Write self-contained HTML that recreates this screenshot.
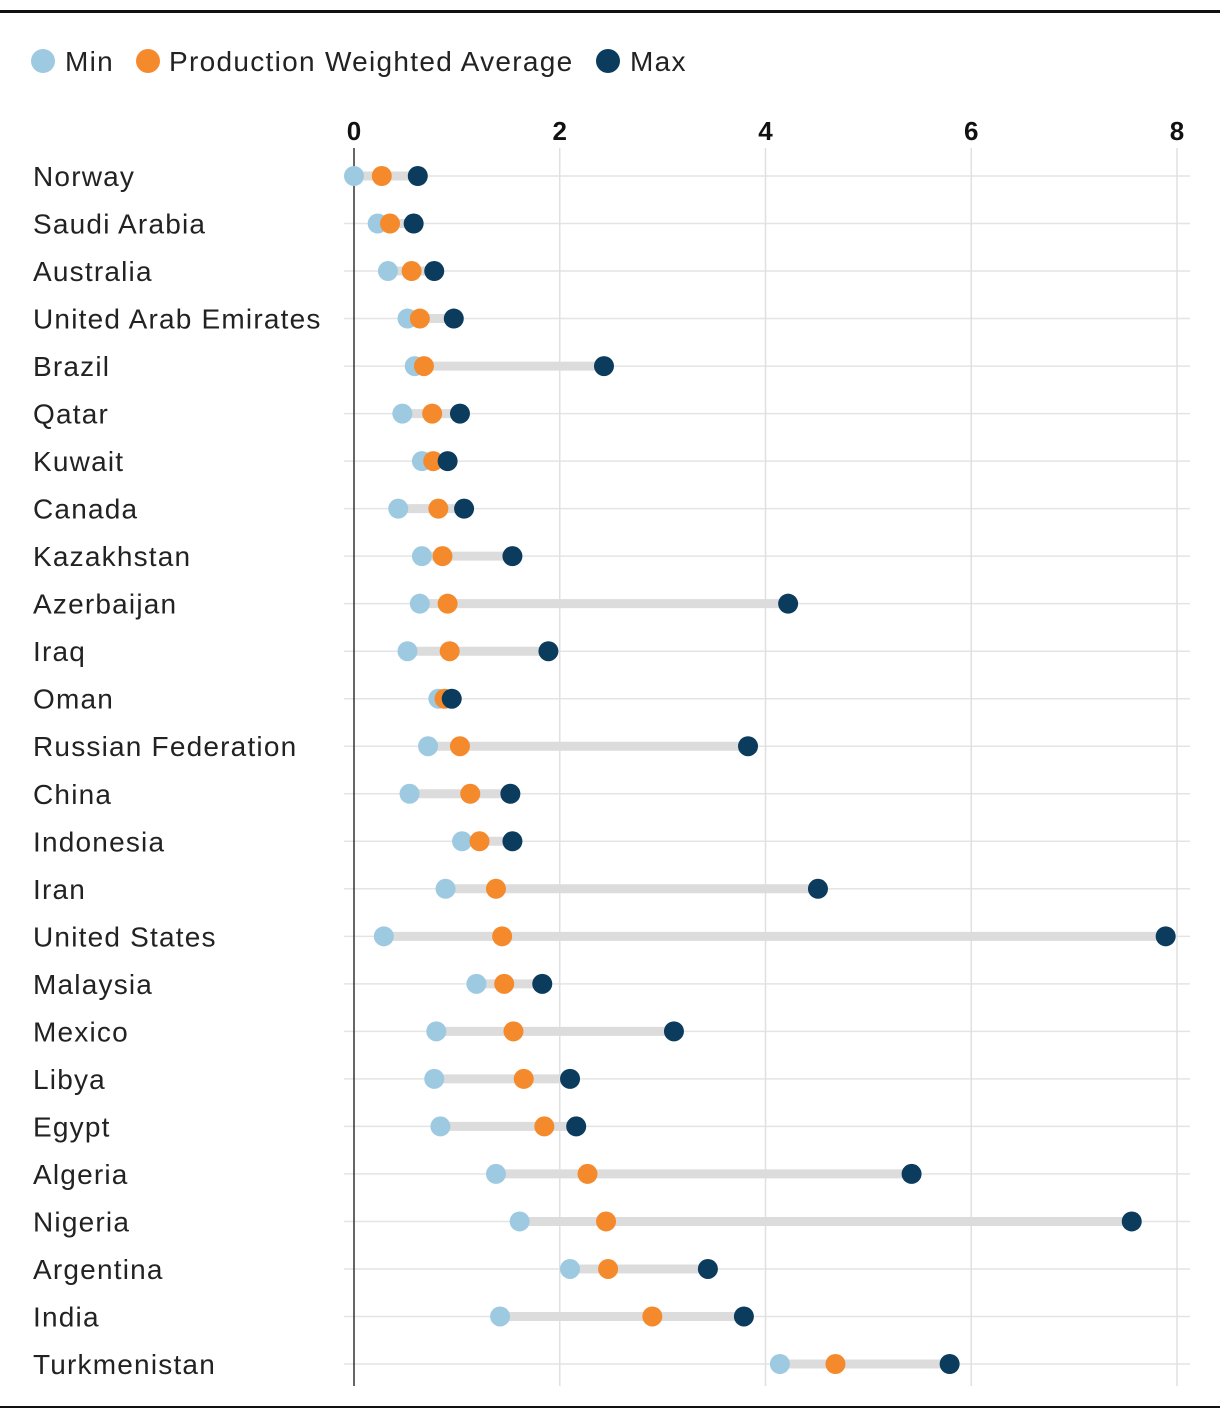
<!DOCTYPE html>
<html><head><meta charset="utf-8">
<style>
html,body{margin:0;padding:0;background:#fff;}
body{width:1220px;height:1420px;overflow:hidden;font-family:"Liberation Sans",sans-serif;}
</style></head>
<body>
<svg id="chart" width="1220" height="1420" xmlns="http://www.w3.org/2000/svg" font-family="Liberation Sans, sans-serif"></svg>
<script>
const countries=["Norway","Saudi Arabia","Australia","United Arab Emirates","Brazil","Qatar","Kuwait","Canada","Kazakhstan","Azerbaijan","Iraq","Oman","Russian Federation","China","Indonesia","Iran","United States","Malaysia","Mexico","Libya","Egypt","Algeria","Nigeria","Argentina","India","Turkmenistan"];
const minVals=[0,0.23,0.33,0.52,0.59,0.47,0.66,0.43,0.66,0.64,0.52,0.82,0.72,0.54,1.05,0.89,0.29,1.19,0.80,0.78,0.84,1.38,1.61,2.10,1.42,4.14];
const avgVals=[0.27,0.35,0.56,0.64,0.68,0.76,0.77,0.82,0.86,0.91,0.93,0.88,1.03,1.13,1.22,1.38,1.44,1.46,1.55,1.65,1.85,2.27,2.45,2.47,2.90,4.68];
const maxVals=[0.62,0.58,0.78,0.97,2.43,1.03,0.91,1.07,1.54,4.22,1.89,0.95,3.83,1.52,1.54,4.51,7.89,1.83,3.11,2.10,2.16,5.42,7.56,3.44,3.79,5.79];
const xTicks=[0,2,4,6,8];
const C={min:"#9ecae1",avg:"#f58a2c",max:"#0b3c5d"};
const svg=document.getElementById('chart');
const NS="http://www.w3.org/2000/svg";
const x=v=>354+v*(1177-354)/8;
const y=i=>176+i*(1364-176)/25;
function mk(tag,attrs,parent){const e=document.createElementNS(NS,tag);for(const k in attrs)e.setAttribute(k,attrs[k]);(parent||svg).appendChild(e);return e;}
let e;
e=mk('rect',{x:0,y:10,width:1220,height:3,fill:'#111'});


e=mk('rect',{x:0,y:1406,width:1220,height:2,fill:'#111'});


const leg=[["Min",C.min,43,65],["Production Weighted Average",C.avg,148,169],["Max",C.max,608,630]];
leg.forEach(l=>{
  const g=mk('g',{});
  
  
  mk('circle',{cx:l[2],cy:61,r:12,fill:l[1]},g);
  const t=mk('text',{x:l[3],y:71,'font-size':28,fill:'#222','letter-spacing':1.3},g);t.textContent=l[0];
});
countries.forEach((c,i)=>{
  e=mk('line',{x1:344,x2:1190,y1:y(i),y2:y(i),stroke:'#e4e4e4','stroke-width':1.5});
  
  
});
xTicks.forEach(t=>{
  e=mk('line',{x1:x(t),x2:x(t),y1:148,y2:1386,stroke:t===0?'#333':'#e0e0e0','stroke-width':1.5});
  
  
  e=mk('text',{x:x(t),y:140,'font-size':26,'font-weight':'bold','text-anchor':'middle',fill:'#111'});
  e.textContent=t;
  
  
});
countries.forEach((c,i)=>{
  const yy=y(i);
  e=mk('text',{x:33,y:yy+10,'font-size':28,fill:'#222','letter-spacing':1.2});
  e.textContent=c;
  
  
  e=mk('line',{x1:x(minVals[i]),x2:x(maxVals[i]),y1:yy,y2:yy,stroke:'#dcdcdc','stroke-width':9});
  
  
  e=mk('circle',{cx:x(minVals[i]),cy:yy,r:10,fill:C.min});
  
  
  e=mk('circle',{cx:x(avgVals[i]),cy:yy,r:10,fill:C.avg});
  
  
  e=mk('circle',{cx:x(maxVals[i]),cy:yy,r:10,fill:C.max});
  
  
});
</script>
</body></html>
